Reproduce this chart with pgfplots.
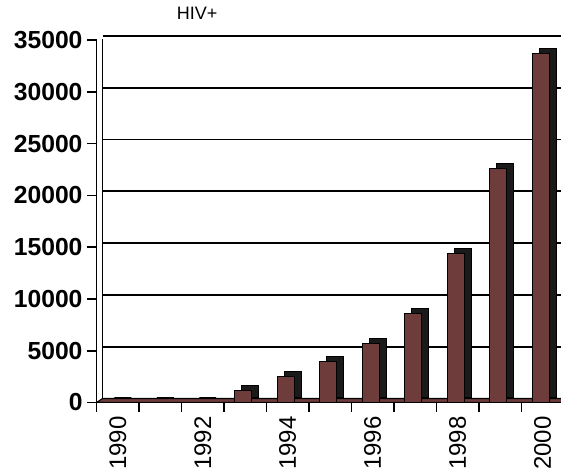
\documentclass[border=0pt]{standalone}
\usepackage{pgfplots}
\pgfplotsset{compat=1.18}
\usepackage{pgfplotstable}
\usepackage{fontspec}
\setmainfont{Liberation Sans}
\definecolor{barfront}{HTML}{6E3C3A}
\definecolor{barside}{HTML}{1A1A1A}

% HIV+ cases per year
\pgfplotstableread{
x year value
0 1990 0
1 1991 0
2 1992 0
3 1993 1200
4 1994 2490
5 1995 3940
6 1996 5710
7 1997 8610
8 1998 14430
9 1999 22600
10 2000 33700
}\hiv

\begin{document}
\begin{tikzpicture}
\begin{axis}[
  scale only axis,
  width=350.6pt, height=271.9pt,
  xmin=-0.5, xmax=10.5, ymin=0, ymax=35000,
  axis x line*=bottom, axis y line*=left,
  axis line style={black, line width=1.3pt},
  scaled y ticks=false,
  ytick={0,5000,...,35000},
  yticklabels={0,5000,10000,15000,20000,25000,30000,35000},
  xtick={0,2,...,10},
  xticklabels={1990,1992,1994,1996,1998,2000},
  minor xtick={-0.5,0.5,...,10.5},
  tick align=outside,
  major tick length=7pt, minor tick length=7pt,
  tick style={black, line width=1.2pt},
  every major x tick/.append style={draw=none},
  ymajorgrids,
  major grid style={black, line width=1.3pt, xshift=4.5pt, yshift=3pt},
  yticklabel style={font=\fontsize{18.5}{18.5}\selectfont\bfseries},
  xticklabel style={font=\fontsize{18}{18}\selectfont, rotate=90, anchor=east},
  title=HIV+,
  title style={at={(0.215,1)}, anchor=center, yshift=14.25pt,
    font=\fontsize{13.5}{14}\selectfont},
]
\coordinate (o) at (rel axis cs:0,0);
% floor and back wall
\filldraw[fill=barfront, draw=black, line width=0.8pt]
  (rel axis cs:0,0) -- ([xshift=4.5pt,yshift=3pt]rel axis cs:0,0)
  -- ([xshift=4.5pt,yshift=3pt]rel axis cs:1,0) -- (rel axis cs:1,0) -- cycle;
\draw[black, line width=1.2pt] ([xshift=4.5pt,yshift=3pt]rel axis cs:0,0)
  -- ([xshift=4.5pt,yshift=3pt]rel axis cs:0,1);
% bar depth, then bar fronts
\addplot[ybar, bar width=12.75pt, bar shift=-1.5pt, fill=barside, draw=black,
  line width=0.6pt, xshift=5.25pt, yshift=3.75pt] table[x=x, y=value] {\hiv};
\addplot[ybar, bar width=12.75pt, bar shift=-1.5pt, fill=barfront, draw=black,
  line width=0.6pt] table[x=x, y=value] {\hiv};
\end{axis}
\pgfresetboundingbox
\useasboundingbox ([shift={(-72.4pt,-49.9pt)}]o) rectangle ([shift={(348.4pt,301.9pt)}]o);
\end{tikzpicture}
\end{document}
